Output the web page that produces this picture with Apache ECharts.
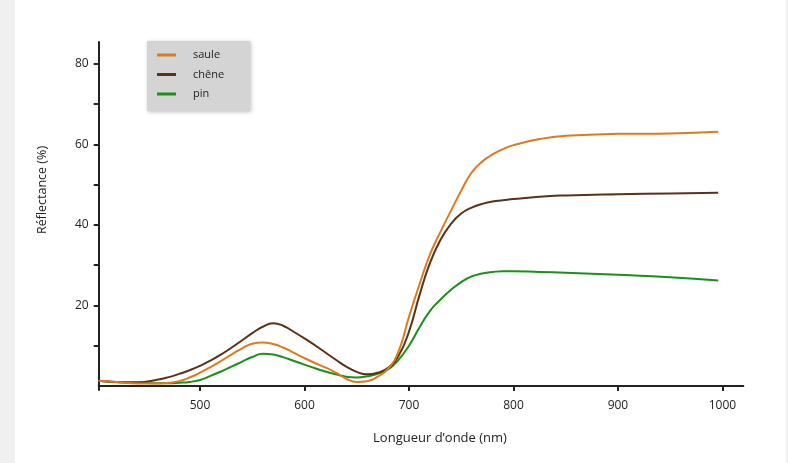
<!DOCTYPE html>
<html>
<head>
<meta charset="utf-8">
<script src="https://cdn.jsdelivr.net/npm/echarts@6/dist/echarts.min.js"></script>
<style>html,body{margin:0;padding:0;background:#fff}#c{width:788px;height:463px}</style>
</head>
<body>
<div id="c"></div>
<script>
var wavelengths = [403,420,440,460,470,480,490,500,510,520,530,540,550,560,570,580,590,600,610,620,630,640,650,660,670,680,690,700,710,720,730,740,750,760,770,780,790,800,825,850,900,950,996];
var saule = [1.3,1.0,0.6,0.6,0.8,1.2,2.1,3.3,4.7,6.2,7.8,9.3,10.5,10.8,10.4,9.5,8.2,6.9,5.7,4.6,3.3,1.8,1.0,1.2,2.3,4.3,8.6,17.2,25.2,32.6,38.2,43.4,48.5,53.0,55.7,57.5,58.8,59.8,61.3,62.1,62.6,62.7,63.1];
var chene = [1.3,1.0,0.9,1.6,2.2,3.0,3.9,5.0,6.3,7.8,9.5,11.3,13.1,14.7,15.6,14.9,13.4,11.8,10.1,8.3,6.5,4.8,3.5,2.9,3.3,4.5,7.5,13.5,22.5,30.5,36.2,40.2,42.8,44.3,45.2,45.8,46.1,46.4,47.0,47.3,47.6,47.8,48.0];
var pin = [1.3,0.9,0.8,0.7,0.7,0.8,1.0,1.5,2.5,3.6,4.8,6.0,7.2,8.0,7.8,7.1,6.2,5.3,4.4,3.6,2.9,2.3,2.1,2.4,3.0,4.1,6.5,10.0,14.5,18.6,21.4,23.8,25.8,27.2,27.9,28.3,28.5,28.5,28.3,28.1,27.6,27.0,26.2];
var seriesNames = ['saule','chêne','pin'];
var xTicks = [500,600,700,800,900,1000];
var yLabelTicks = [20,40,60,80];
var yMinorTicks = [10,20,30,40,50,60,70,80];
var xTitle = 'Longueur d\u2019onde (nm)';
var yTitle = 'Réflectance (%)';

function pairs(xs, ys){ return xs.map(function(x,i){ return [x, ys[i]]; }); }

var colors = ['#db7b21','#5a3216','#1a901a'];
var font = '"Open Sans", "Noto Sans", sans-serif';
var chart = echarts.init(document.getElementById('c'), null, {renderer:'canvas'});
var seriesData = [saule, chene, pin];
chart.setOption({
  animation: false,
  backgroundColor: '#ffffff',
  textStyle: {fontFamily: font},
  graphic: [
    {type:'rect', left:0, top:0, shape:{width:15, height:463}, style:{fill:'#eff0ef'}, z:-10},
    {type:'rect', left:786, top:0, shape:{width:2, height:463}, style:{fill:'#eff0ef'}, z:-10},
    {type:'text', x:42, y:190, rotation: Math.PI/2, style:{text: yTitle, fill:'#222', font:'12.5px ' + font, align:'center', verticalAlign:'middle'}},
    {type:'text', x:440, y:438, style:{text: xTitle, fill:'#222', font:'13px ' + font, align:'center', verticalAlign:'middle'}}
  ],
  legend: {
    orient: 'vertical',
    left: 147, top: 41,
    backgroundColor: '#d4d4d4',
    shadowBlur: 4, shadowColor: 'rgba(0,0,0,0.25)', shadowOffsetX: 1, shadowOffsetY: 1,
    padding: [7, 26, 10, 10],
    itemWidth: 19, itemHeight: 3, itemGap: 5.5,
    icon: 'rect',
    textStyle: {fontSize: 11, color: '#222', lineHeight: 14, padding: [0,0,0,12], fontFamily: font},
    data: seriesNames
  },
  grid: {left: 98.7, right: 44.7, top: 42, bottom: 73, containLabel: false},
  xAxis: {
    type: 'value', min: 403, max: 1020,
    splitLine: {show:false},
    axisLine: {lineStyle:{color:'#222', width:2}},
    axisTick: {show:true, inside:false, length:5, lineStyle:{color:'#222', width:2}, customValues: xTicks},
    axisLabel: {customValues: xTicks, color:'#222', fontSize: 12, margin: 10, fontFamily: font, formatter: function(v){ return String(v); }}
  },
  yAxis: {
    type: 'value', min: -1, max: 85.4,
    splitLine: {show:false},
    axisLine: {show:true, lineStyle:{color:'#222', width:2}},
    axisTick: {show:true, inside:false, length:5, lineStyle:{color:'#222', width:2}, customValues: yMinorTicks},
    axisLabel: {customValues: yLabelTicks, color:'#222', fontSize: 12, margin: 10, fontFamily: font, formatter: function(v){ return String(v); }}
  },
  series: seriesNames.map(function(n,i){
    return {
      name: n, type: 'line', smooth: 0.5, showSymbol: false, symbol: 'none',
      data: pairs(wavelengths, seriesData[i]),
      lineStyle: {color: colors[i], width: 2},
      itemStyle: {color: colors[i]},
      z: 3 - i
    };
  })
});
</script>
</body>
</html>
